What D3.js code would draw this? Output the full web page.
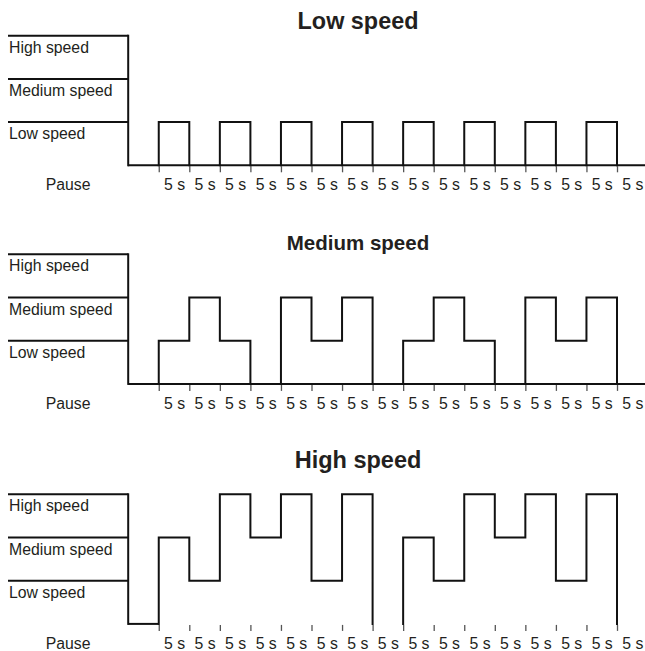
<!DOCTYPE html>
<html>
<head>
<meta charset="utf-8">
<script src="https://cdn.jsdelivr.net/npm/d3@7"></script>
<style>
  body { margin: 0; background: #fff; }
  svg { display: block; font-family: "Liberation Sans", Arial, sans-serif; }
</style>
</head>
<body>
<svg id="chart" width="645" height="651"></svg>
<script>
// levels: 0 pause, 1 low, 2 medium, 3 high
var levelNames = ["Pause", "Low speed", "Medium speed", "High speed"];
var panelTitles = ["Low speed", "Medium speed", "High speed"];
var tickLabels = ["5 s", "5 s", "5 s", "5 s", "5 s", "5 s", "5 s", "5 s",
                  "5 s", "5 s", "5 s", "5 s", "5 s", "5 s", "5 s", "5 s"];

// one value per 5 s interval
var lowSpeedSteps    = [0, 1, 0, 1, 0, 1, 0, 1, 0, 1, 0, 1, 0, 1, 0, 1, 0];
var mediumSpeedSteps = [0, 1, 2, 1, 0, 2, 1, 2, 0, 1, 2, 1, 0, 2, 1, 2, 0];
var highSpeedSteps   = [0, 2, 1, 3, 2, 3, 1, 3, 0, 2, 1, 3, 2, 3, 1, 3, 0];

// how far the pause line runs (in intervals) - the high speed one stops after the first
var pauseLineEnd = [17, 17, 1];

var allSteps = [lowSpeedSteps, mediumSpeedSteps, highSpeedSteps];

// layout
var panelTop = [35.7, 254.3, 494.3];
var titleY = [29.3, 250.3, 468.3];
var titleSize = [23.4, 20.5, 23.5];
var bandH = 43.2;
var leftX = 8;
var axisX = 128.2;
var stepW = 30.55;
var ink = "#111";
var textCol = "#231f20";

var svg = d3.select("#chart");

var x = d3.scaleLinear()
  .domain([0, 17])
  .range([axisX, axisX + 17 * stepW]);

panelTitles.forEach(function(title, p) {
  var steps = allSteps[p];
  var y = d3.scaleLinear()
    .domain([0, 3])
    .range([panelTop[p] + 3 * bandH, panelTop[p]]);

  var g = svg.append("g");

  g.append("text")
    .attr("x", 358)
    .attr("y", titleY[p])
    .attr("text-anchor", "middle")
    .attr("font-weight", "bold")
    .attr("font-size", titleSize[p] + "px")
    .attr("fill", textCol)
    .text(title);

  // level lines on the left
  g.selectAll(".lvl")
    .data([1, 2, 3])
    .enter().append("line")
    .attr("x1", leftX)
    .attr("x2", axisX)
    .attr("y1", function(d) { return y(d); })
    .attr("y2", function(d) { return y(d); })
    .attr("stroke", ink)
    .attr("stroke-width", 2);

  g.selectAll(".lvlname")
    .data([1, 2, 3])
    .enter().append("text")
    .attr("x", 9)
    .attr("y", function(d) { return y(d) + 17; })
    .attr("font-size", "15.8px")
    .attr("fill", textCol)
    .text(function(d) { return levelNames[d]; });

  g.append("text")
    .attr("x", (leftX + axisX) / 2)
    .attr("y", y(0) + 25)
    .attr("text-anchor", "middle")
    .attr("font-size", "15.8px")
    .attr("fill", textCol)
    .text(levelNames[0]);

  // ticks between intervals
  var tickAxis = g.append("g")
    .attr("transform", "translate(0," + (y(0) + 1) + ")")
    .call(d3.axisBottom(x).tickValues(d3.range(1, 17)).tickSize(6).tickFormat(""));
  tickAxis.select(".domain").remove();
  tickAxis.selectAll("line").attr("stroke", "#555").attr("stroke-width", 1.3);

  // "5 s" labels centred in each interval
  var labelAxis = g.append("g")
    .attr("transform", "translate(0," + y(0) + ")")
    .call(d3.axisBottom(x)
      .tickValues(d3.range(1.5, 17, 1))
      .tickSize(0)
      .tickFormat(function(d, i) { return tickLabels[i]; }));
  labelAxis.select(".domain").remove();
  labelAxis.selectAll("text")
    .attr("y", 25)
    .attr("dy", null)
    .attr("font-family", "\"Liberation Sans\", Arial, sans-serif")
    .attr("font-size", "15.8px")
    .attr("fill", textCol);

  // vertical axis + pause line
  g.append("line")
    .attr("x1", axisX).attr("x2", axisX)
    .attr("y1", y(3)).attr("y2", y(0))
    .attr("stroke", ink).attr("stroke-width", 2)
    .attr("stroke-linecap", "square");

  g.append("line")
    .attr("x1", x(0)).attr("x2", x(pauseLineEnd[p]))
    .attr("y1", y(0)).attr("y2", y(0))
    .attr("stroke", ink).attr("stroke-width", 2);

  // step trace: horizontals for non-pause levels, verticals at every change
  var path = d3.path();
  steps.forEach(function(v, i) {
    if (v > 0) {
      path.moveTo(x(i), y(v));
      path.lineTo(x(i + 1), y(v));
    }
    if (i > 0 && steps[i - 1] !== v) {
      path.moveTo(x(i), y(steps[i - 1]));
      path.lineTo(x(i), y(v));
    }
  });

  g.append("path")
    .attr("d", path.toString())
    .attr("fill", "none")
    .attr("stroke", ink)
    .attr("stroke-width", 2)
    .attr("stroke-linecap", "square");
});
</script>
</body>
</html>
